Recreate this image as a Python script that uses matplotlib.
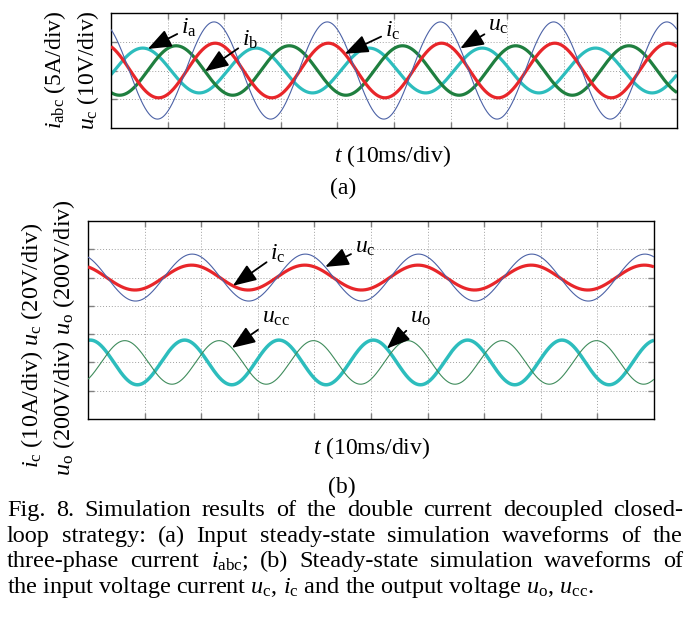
import re
import numpy as np
import matplotlib
matplotlib.use('Agg')
import matplotlib.pyplot as plt

plt.rcParams['font.family'] = ['Liberation Serif', 'DejaVu Serif']
plt.rcParams['mathtext.fontset'] = 'custom'
plt.rcParams['mathtext.rm'] = 'Liberation Serif'
plt.rcParams['mathtext.it'] = 'Liberation Serif:italic'

W, H = 693, 628

# (a) tres fases + tensao do capacitor, valores em divisoes
a_names = ['u_c', 'i_a', 'i_b', 'i_c']
a_amp = [1.69, 0.78, 0.86, 0.95]      # div
a_peak = [18.2, 5.6, 11.5, 18.4]      # ms, instante do primeiro pico
a_freq = [50, 50, 50, 50]             # Hz
a_off = [0.0, 0.0, 0.0, 0.0]
a_col = ['#4c62a6', '#2dbdbd', '#1f7f3f', '#e8262a']
a_lw = [0.8, 2.3, 2.3, 2.3]
a_z = [4, 2, 2, 3]

# (b) uc, ic em cima; uo, ucc em baixo
b_names = ['u_c', 'i_c', 'u_o', 'u_cc']
b_amp = [0.83, 0.44, 0.79, 0.77]
b_peak = [18.4, 18.3, 0.4, 6.5]
b_freq = [50, 50, 60, 60]
b_off = [5.0, 5.0, 2.0, 2.0]
b_col = ['#4c62a6', '#e8262a', '#2dbdbd', '#3f8c5c']
b_lw = [0.8, 2.3, 2.5, 0.8]
b_z = [4, 3, 2, 4]

# anotacoes: (texto, curva, t da ponta [ms], t do texto, y do texto [div])
a_notes = [(r'$i_{\rm a}$', 1, 6.5, 13.8, 1.48),
           (r'$i_{\rm b}$', 2, 16.6, 24.6, 1.06),
           (r'$i_{\rm c}$', 3, 41.3, 49.8, 1.37),
           (r'$u_{\rm c}$', 0, 61.7, 68.5, 1.55)]
b_notes = [(r'$i_{\rm c}$', 1, 25.6, 33.6, 5.83),
           (r'$u_{\rm c}$', 0, 41.9, 49.0, 6.08),
           (r'$u_{\rm cc}$', 3, 25.4, 33.2, 3.59),
           (r'$u_{\rm o}$', 2, 52.8, 58.8, 3.59)]

legenda = ['Fig. 8. Simulation results of the double current decoupled closed-',
           'loop strategy: (a) Input steady-state simulation waveforms of the',
           r'three-phase current $i_{\rm abc}$; (b) Steady-state simulation waveforms of',
           r'the input voltage current $u_{\rm c}$, $i_{\rm c}$ and the output voltage $u_{\rm o}$, $u_{\rm cc}$.']

t = np.linspace(0, 100, 3000)  # ms


def onda(tt, amp, peak, f, off):
    return off + amp * np.cos(2 * np.pi * f * (tt - peak) / 1000.0)


def eixo(rect, ylim, yticks):
    ax = fig.add_axes(rect)
    ax.set_xlim(0, 100)
    ax.set_ylim(*ylim)
    ax.set_xticks(np.arange(10, 100, 10))
    ax.set_yticks(yticks)
    ax.set_xticklabels([])
    ax.set_yticklabels([])
    ax.tick_params(direction='in', length=4, width=1.0, color='#808080',
                   top=True, right=True)
    ax.grid(True, linestyle=(0, (1, 2)), color='#a0a0a0', linewidth=0.7)
    for s in ax.spines.values():
        s.set_linewidth(1.0)
    return ax


def desenha(ax, amp, peak, freq, off, col, lw, zz, notes):
    for k in range(len(amp)):
        ax.plot(t, onda(t, amp[k], peak[k], freq[k], off[k]), color=col[k],
                lw=lw[k], zorder=zz[k], solid_capstyle='butt')
    for txt, k, tt, tx, ty in notes:
        yy = onda(tt, amp[k], peak[k], freq[k], off[k])
        ax.annotate(txt, xy=(tt, yy), xytext=(tx, ty), fontsize=17,
                    ha='center', va='center', zorder=6,
                    arrowprops=dict(arrowstyle='-|>,head_length=0.9,head_width=0.35',
                                    color='k', lw=1.3, mutation_scale=16,
                                    shrinkA=1, shrinkB=0))


fig = plt.figure(figsize=(W / 100, H / 100), dpi=100)

ax1 = eixo([111 / W, 1 - 128 / H, 566 / W, 115 / H], (-2, 2), [-1, 0, 1])
desenha(ax1, a_amp, a_peak, a_freq, a_off, a_col, a_lw, a_z, a_notes)

ax2 = eixo([88 / W, 1 - 419 / H, 566 / W, 198 / H], (0, 7), [1, 2, 3, 4, 5, 6])
desenha(ax2, b_amp, b_peak, b_freq, b_off, b_col, b_lw, b_z, b_notes)

fs = 17
fig.text(55 / W, 1 - 70 / H, r'$i_{\rm abc}$ (5A/div)', rotation=90,
         ha='center', va='center', fontsize=fs)
fig.text(88 / W, 1 - 70 / H, r'$u_{\rm c}$ (10V/div)', rotation=90,
         ha='center', va='center', fontsize=fs)
fig.text(393 / W, 1 - 156 / H, r'$t$ (10ms/div)', ha='center', va='center', fontsize=fs)
fig.text(343 / W, 1 - 188 / H, '(a)', ha='center', va='center', fontsize=fs)

fig.text(32 / W, 1 - 345 / H, r'$i_{\rm c}$ (10A/div) $u_{\rm c}$ (20V/div)', rotation=90,
         ha='center', va='center', fontsize=17.5)
fig.text(64 / W, 1 - 338 / H, r'$u_{\rm o}$ (200V/div) $u_{\rm o}$ (200V/div)', rotation=90,
         ha='center', va='center', fontsize=17.5)
fig.text(372 / W, 1 - 448 / H, r'$t$ (10ms/div)', ha='center', va='center', fontsize=fs)
fig.text(342 / W, 1 - 487 / H, '(b)', ha='center', va='center', fontsize=fs)

# legenda justificada (exceto a ultima linha), palavras alinhadas pela base
fs_leg = 17.5
x0, x1 = 7, 683
fig.canvas.draw()
rend = fig.canvas.get_renderer()
for n, linha in enumerate(legenda):
    y = 1 - (516 + 25.6 * n) / H
    if n == len(legenda) - 1:
        fig.text(x0 / W, y, linha, ha='left', va='baseline', fontsize=fs_leg)
        continue
    palavras = re.findall(r'(?:[^\s$]*\$[^$]*\$)+[^\s$]*|\S+', linha)
    objs = [fig.text(0, y, p, ha='left', va='baseline', fontsize=fs_leg) for p in palavras]
    larg = [o.get_window_extent(rend).width for o in objs]
    gap = (x1 - x0 - sum(larg)) / (len(objs) - 1)
    x = x0
    for o, w in zip(objs, larg):
        o.set_x(x / W)
        x += w + gap

fig.savefig('out.png', dpi=100)
